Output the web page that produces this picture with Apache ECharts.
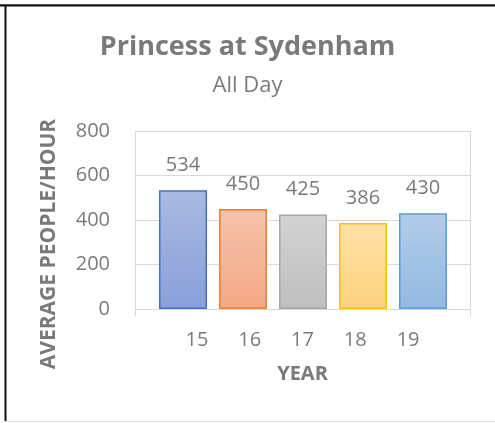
<!DOCTYPE html>
<html>
<head>
<meta charset="utf-8">
<script src="https://cdn.jsdelivr.net/npm/echarts@6/dist/echarts.min.js"></script>
<style>
  html, body { margin: 0; padding: 0; background: #fff; }
  #chart { width: 495px; height: 423px; }
</style>
</head>
<body>
<div id="chart"></div>
<script>
// data
const years = ["15", "16", "17", "18", "19"];
const avgPeople = [534, 450, 425, 386, 430];
const yTicks = [0, 200, 400, 600, 800];

// excel-ish bar fills: [border, gradient top, gradient bottom]
const barPalette = [
  ["#4472c4", "#abbae3", "#889fd8"],
  ["#ed7d31", "#f6c3ab", "#f4a784"],
  ["#a5a5a5", "#d2d2d2", "#bfbfbf"],
  ["#ffc000", "#ffe1a6", "#fdd27e"],
  ["#5b9bd5", "#b1cce8", "#93b9e2"],
];

const textColor = "#7a7a7a";
const gridColor = "#d9d9d9";
const font = "Open Sans";

const chart = echarts.init(document.getElementById("chart"));

const option = {
  animation: false,
  title: [
    {
      text: "Princess at Sydenham",
      left: "center",
      top: 29,
      textStyle: { fontFamily: font, fontSize: 27, fontWeight: "bold", color: textColor },
    },
    {
      text: "All Day",
      left: "center",
      top: 70,
      textStyle: { fontFamily: font, fontSize: 22, fontWeight: "normal", color: textColor },
    },
  ],
  // 0: frame with gridlines, 1: bars, 2: category labels
  grid: [
    { left: 135, right: 25, top: 131, bottom: 114 },
    { left: 153, right: 42, top: 131, bottom: 114 },
    { left: 170.5, right: 60.5, top: 131, bottom: 114 },
  ],
  xAxis: [
    {
      gridIndex: 0,
      type: "category",
      data: [""],
      axisLine: { lineStyle: { color: gridColor } },
      axisTick: { show: true, length: 7, lineStyle: { color: gridColor } },
      axisLabel: { show: false },
      splitLine: { show: true, lineStyle: { color: gridColor } },
    },
    {
      gridIndex: 1,
      type: "category",
      data: years,
      show: false,
    },
    {
      gridIndex: 2,
      type: "category",
      data: years,
      axisLine: { show: false },
      axisTick: { show: false },
      axisLabel: { margin: 21, fontFamily: font, fontSize: 20, color: textColor },
      name: "YEAR",
      nameLocation: "middle",
      nameGap: 55,
      nameTextStyle: { fontFamily: font, fontSize: 20, fontWeight: "bold", color: textColor },
    },
  ],
  yAxis: [
    {
      gridIndex: 0,
      type: "value",
      min: yTicks[0],
      max: yTicks[yTicks.length - 1],
      interval: yTicks[1] - yTicks[0],
      axisLine: { show: false },
      axisTick: { show: false },
      axisLabel: { margin: 25, fontFamily: font, fontSize: 20, color: textColor },
      splitLine: { lineStyle: { color: gridColor } },
      name: "AVERAGE PEOPLE/HOUR",
      nameLocation: "middle",
      nameGap: 75,
      nameTextStyle: {
        fontFamily: font,
        fontSize: 21,
        fontWeight: "bold",
        color: textColor,
        padding: [0, 48, 0, 0],
      },
    },
    {
      gridIndex: 1,
      type: "value",
      min: yTicks[0],
      max: yTicks[yTicks.length - 1],
      show: false,
    },
    {
      gridIndex: 2,
      type: "value",
      min: yTicks[0],
      max: yTicks[yTicks.length - 1],
      show: false,
    },
  ],
  series: [
    {
      type: "bar",
      xAxisIndex: 1,
      yAxisIndex: 1,
      barWidth: 48,
      data: avgPeople.map((v, i) => ({
        value: v,
        itemStyle: {
          borderColor: barPalette[i][0],
          borderWidth: 1.5,
          color: new echarts.graphic.LinearGradient(0, 0, 0, 1, [
            { offset: 0, color: barPalette[i][1] },
            { offset: 1, color: barPalette[i][2] },
          ]),
        },
      })),
      label: {
        show: true,
        position: "top",
        distance: 15,
        fontFamily: font,
        fontSize: 20,
        color: textColor,
      },
    },
  ],
  graphic: [
    // the framed border of the original screenshot
    { type: "line", shape: { x1: 0, y1: 4.5, x2: 495, y2: 4.5 }, style: { stroke: "#999", lineWidth: 1 } },
    { type: "line", shape: { x1: 0, y1: 5.5, x2: 495, y2: 5.5 }, style: { stroke: "#111", lineWidth: 2 } },
    { type: "line", shape: { x1: 5.5, y1: 5, x2: 5.5, y2: 421 }, style: { stroke: "#111", lineWidth: 2 } },
    { type: "line", shape: { x1: 5, y1: 421.5, x2: 495, y2: 421.5 }, style: { stroke: "#e0e0e0", lineWidth: 1 } },
  ],
};

chart.setOption(option);
</script>
</body>
</html>
